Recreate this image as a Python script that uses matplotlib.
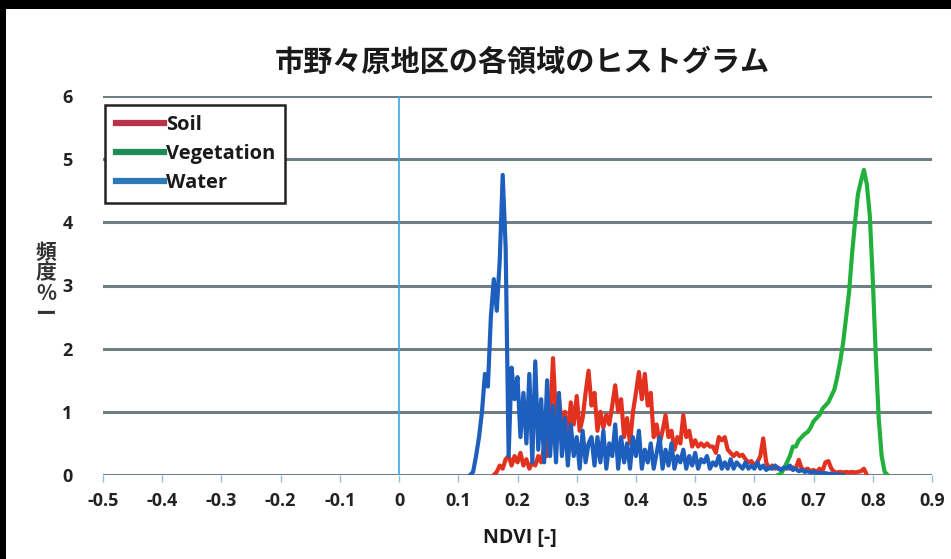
import numpy as np
import matplotlib
matplotlib.use("Agg")
import matplotlib.pyplot as plt
from matplotlib.patches import Rectangle
from matplotlib.lines import Line2D

plt.rcParams['font.family'] = ['Open Sans', 'Noto Sans CJK JP', 'DejaVu Sans']

# ---------------- data ----------------
title = "市野々原地区の各領域のヒストグラム"
xlabel = "NDVI [-]"
ylabel = "頻\n度\n%\nー"
series_names = ["Soil", "Vegetation", "Water"]
x_ticks = [-0.5, -0.4, -0.3, -0.2, -0.1, 0, 0.1, 0.2, 0.3, 0.4, 0.5, 0.6, 0.7, 0.8, 0.9]
x_tick_labels = ["-0.5", "-0.4", "-0.3", "-0.2", "-0.1", "0", "0.1", "0.2", "0.3",
                 "0.4", "0.5", "0.6", "0.7", "0.8", "0.9"]
y_ticks = [0, 1, 2, 3, 4, 5, 6]

bin_step = 0.005

water_start = 0.120
water = [0.0, 0.05, 0.3, 0.6, 1.0, 1.6, 1.4, 2.5, 3.1, 2.6, 3.4, 4.75, 3.6, 0.3, 1.7, 1.2,
         1.55, 0.6, 1.3, 0.5, 1.6, 0.2, 1.8, 0.4, 1.2, 0.2, 1.5, 0.3, 1.1, 0.2, 1.3, 0.3,
         0.9, 0.15, 0.8, 0.3, 0.6, 0.1, 0.7, 0.2, 0.5, 0.6, 0.15, 0.6, 0.2, 0.7, 0.1, 0.5,
         0.3, 0.8, 0.1, 0.6, 0.2, 0.5, 0.1, 0.6, 0.3, 0.7, 0.1, 0.4, 0.2, 0.5, 0.1, 0.35,
         0.6, 0.1, 0.4, 0.15, 0.5, 0.1, 0.3, 0.2, 0.4, 0.1, 0.3, 0.15, 0.35, 0.1, 0.25, 0.2,
         0.3, 0.1, 0.2, 0.15, 0.3, 0.1, 0.2, 0.1, 0.25, 0.1, 0.2, 0.15, 0.1, 0.2, 0.1, 0.15,
         0.1, 0.2, 0.1, 0.15, 0.08, 0.12, 0.1, 0.15, 0.1, 0.08, 0.12, 0.1, 0.15, 0.08, 0.1,
         0.06, 0.08, 0.05, 0.06, 0.04, 0.05, 0.03, 0.04, 0.02, 0.03, 0.02, 0.02, 0.01, 0.01,
         0.0, 0.0]

soil_start = 0.160
soil = [0.0, 0.05, 0.15, 0.1, 0.25, 0.3, 0.15, 0.3, 0.2, 0.35, 0.15, 0.25, 0.1, 0.2, 0.15,
        0.3, 0.2, 0.45, 0.3, 0.9, 1.85, 0.9, 1.2, 0.8, 1.0, 0.6, 1.15, 0.8, 1.25, 0.7, 0.9,
        1.3, 1.65, 1.1, 1.3, 0.7, 1.0, 0.75, 0.95, 0.8, 1.1, 1.42, 1.0, 1.2, 0.6, 0.9, 0.5,
        1.0, 1.3, 1.63, 1.2, 1.6, 1.1, 1.3, 0.6, 0.8, 0.5, 0.7, 0.95, 0.6, 0.7, 0.4, 0.6,
        0.5, 0.95, 0.6, 0.7, 0.45, 0.55, 0.45, 0.5, 0.45, 0.5, 0.45, 0.45, 0.35, 0.6, 0.55,
        0.6, 0.4, 0.35, 0.3, 0.35, 0.3, 0.32, 0.25, 0.2, 0.22, 0.15, 0.2, 0.3, 0.58, 0.2,
        0.1, 0.15, 0.1, 0.12, 0.08, 0.1, 0.15, 0.1, 0.12, 0.1, 0.24, 0.1, 0.08, 0.1, 0.06,
        0.08, 0.05, 0.1, 0.06, 0.2, 0.22, 0.1, 0.05, 0.04, 0.05, 0.04, 0.05, 0.04, 0.05,
        0.04, 0.05, 0.06, 0.1, 0.0]

veg_start = 0.640
vegetation = [0.0, 0.02, 0.1, 0.2, 0.3, 0.45, 0.45, 0.55, 0.6, 0.65, 0.68, 0.75, 0.85, 0.9,
              0.95, 1.05, 1.1, 1.15, 1.25, 1.35, 1.55, 1.8, 2.1, 2.5, 2.9, 3.5, 4.0, 4.45,
              4.65, 4.83, 4.6, 4.1, 3.1, 1.9, 0.9, 0.3, 0.05, 0.0]

colors = {"Soil": "#E2321F", "Vegetation": "#22B03C", "Water": "#1E5FBE"}
legend_colors = {"Soil": "#B8344A", "Vegetation": "#1E8A55", "Water": "#2E78B8"}


def bins(start, n):
    return start + bin_step * np.arange(n)


# ---------------- figure ----------------
W, H = 951, 559
fig = plt.figure(figsize=(W / 100, H / 100), dpi=100)
fig.patch.set_facecolor("white")

# screenshot frame (black band top and left)
fig.patches.append(Rectangle((0, 1 - 9 / H), 1, 9 / H, transform=fig.transFigure,
                             facecolor="black", edgecolor="none", zorder=10))
fig.patches.append(Rectangle((0, 0), 6 / W, 1, transform=fig.transFigure,
                             facecolor="black", edgecolor="none", zorder=10))

ax = fig.add_axes([103 / W, 1 - 475 / H, (932 - 103) / W, (475 - 96) / H])
ax.set_xlim(-0.5, 0.9)
ax.set_ylim(0, 6)

for s in ax.spines.values():
    s.set_visible(False)

# horizontal gridlines
for yv in y_ticks:
    ax.axhline(yv, color="#707e86", lw=2.2, zorder=1)
# vertical axis at x = 0
ax.axvline(0, color="#3aa6e8", lw=1.2, zorder=2)

ax.plot(bins(soil_start, len(soil)), soil, color=colors["Soil"], lw=3.0, zorder=3)
ax.plot(bins(veg_start, len(vegetation)), vegetation, color=colors["Vegetation"], lw=3.0,
        zorder=3)
ax.plot(bins(water_start, len(water)), water, color=colors["Water"], lw=3.0, zorder=4)

ax.set_xticks(x_ticks)
ax.set_xticklabels(x_tick_labels)
ax.set_yticks(y_ticks)
ax.tick_params(axis="x", length=5, width=1, color="#8fc0e0", direction="out", pad=7,
               labelsize=13, labelcolor="#222222")
ax.tick_params(axis="y", length=0, pad=22, labelsize=13, labelcolor="#222222")
for lab in ax.get_xticklabels() + ax.get_yticklabels():
    lab.set_fontweight("bold")

# legend
handles = [Line2D([], [], color=legend_colors[n], lw=4.5) for n in series_names]
leg = ax.legend(handles, series_names, loc="upper left", bbox_to_anchor=(0.003, 0.977),
                frameon=True, fancybox=False, edgecolor="#222222", framealpha=1,
                prop={"weight": "bold", "size": 14.5}, handlelength=2.4, handletextpad=0.1,
                labelspacing=0.45, borderpad=0.5, borderaxespad=0)
leg.get_frame().set_linewidth(1.8)
leg.set_zorder(6)
for t in leg.get_texts():
    t.set_color("#1a1a1a")

# title and axis labels
fig.text(522 / W, 1 - 62 / H, title, ha="center", va="center", fontsize=21,
         fontweight="bold", family=["Noto Sans CJK JP", "DejaVu Sans"], color="#1a1a1a")
fig.text(520 / W, 1 - 538 / H, xlabel, ha="center", va="center", fontsize=14,
         fontweight="bold", color="#1a1a1a")
fig.text(46 / W, 1 - 283 / H, ylabel, ha="center", va="center", fontsize=15,
         fontweight="bold", family=["Noto Sans CJK JP", "DejaVu Sans"], color="#333333",
         linespacing=0.95)

fig.savefig("out.png", dpi=100, facecolor="white")
